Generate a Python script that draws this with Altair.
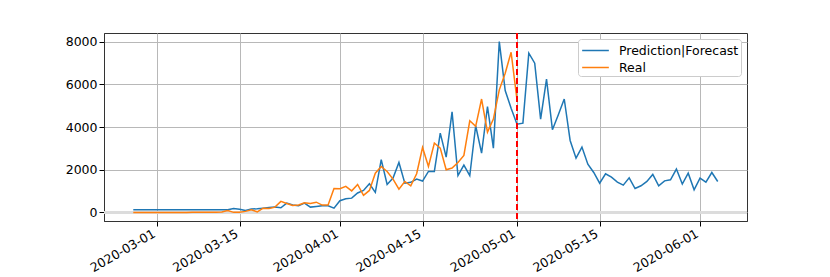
import altair as alt
import pandas as pd

# ---- data ----
start_date = "2020-02-26"
series_names = ["Prediction|Forecast", "Real"]
series_colors = ["#1f77b4", "#ff7f0e"]

prediction = [
    130, 130, 130, 130, 130, 130, 130, 130, 130, 130, 130, 130, 130, 130, 130, 130, 130,
    190, 150, 95, 160, 170, 200, 230, 250, 220, 440, 345, 310, 440, 250, 280, 310, 310,
    200, 550, 640, 670, 910, 1030, 1340, 940, 2470, 1310, 1610, 2340, 1370, 1410, 1560,
    1470, 1920, 1920, 3710, 2590, 4710, 1730, 2220, 1720, 4060, 2780, 4960, 3010, 8000,
    5710, 4880, 4130, 4180, 7460, 6990, 4370, 6240, 3870, 4570, 5310, 3370, 2540, 3060,
    2260, 1870, 1370, 1810, 1650, 1420, 1280, 1620, 1120, 1250, 1450, 1780, 1250, 1480,
    1530, 2030, 1330, 1840, 1060, 1610, 1420, 1870, 1450,
]

real = [
    0, 0, 0, 0, 0, 0, 0, 0, 0,
    0, 5, 5, 10, 10, 15, 20,
    95, 5, 10, 50, 125, 30, 200, 190, 250, 520, 420, 330, 350, 450, 420, 480, 345, 345,
    1120, 1110, 1220, 1010, 1310, 800, 1030, 1840, 2150, 1920, 1560, 1090, 1450, 1250,
    1810, 3040, 2150, 3250, 3010, 2000, 2080, 2340, 2670, 4290, 4030, 5310, 3760, 4370,
    5740, 6520, 7500, 5270,
]

tick_dates = [(2020, 3, 1), (2020, 3, 15), (2020, 4, 1), (2020, 4, 15),
              (2020, 5, 1), (2020, 5, 15), (2020, 6, 1)]
y_ticks = [0, 2000, 4000, 6000, 8000]
cutoff_date = ["2020-05-01T00:00:00"]
zero_line = [0]

# ---- tables ----
dates = pd.date_range(start_date, periods=len(prediction), freq="D").strftime("%Y-%m-%dT00:00:00")
df = pd.concat([
    pd.DataFrame({"date": list(dates), "value": prediction, "series": series_names[0]}),
    pd.DataFrame({"date": list(dates[:len(real)]), "value": real, "series": series_names[1]}),
], ignore_index=True)
cut_df = pd.DataFrame({"date": cutoff_date})
zero_df = pd.DataFrame({"v": zero_line})

font = "DejaVu Sans"

x_scale = alt.Scale(domain=[alt.DateTime(year=2020, month=2, date=21, hours=1),
                            alt.DateTime(year=2020, month=6, date=8, hours=23)])
y_scale = alt.Scale(domain=[-400, 8400], nice=False, zero=False)

x_axis = alt.Axis(
    values=[alt.DateTime(year=y, month=m, date=d) for (y, m, d) in tick_dates],
    format="%Y-%m-%d", labelAngle=330, labelAlign="right", labelBaseline="top",
    labelOffset=-6, labelPadding=1,
    title="Date", titlePadding=4, grid=True,
)
y_axis = alt.Axis(values=y_ticks, title=None, grid=True, format="d")

zero_rule = alt.Chart(zero_df).mark_rule(color="#dcdcdc", strokeWidth=3).encode(
    y=alt.Y("v:Q", scale=y_scale, axis=y_axis)
)

lines = alt.Chart(df).mark_line(strokeWidth=1.5).encode(
    x=alt.X("date:T", scale=x_scale, axis=x_axis),
    y=alt.Y("value:Q", scale=y_scale, axis=y_axis),
    color=alt.Color(
        "series:N",
        scale=alt.Scale(domain=series_names, range=series_colors),
        sort=series_names,
        legend=alt.Legend(
            title=None, orient="top-right", offset=6,
            symbolType="M-1.57,0H1.57", symbolSize=289, symbolStrokeWidth=1.5,
            symbolOffset=6, symbolFillColor="transparent",
            labelFont=font, labelFontSize=12.5, labelColor="black", labelOffset=14,
            fillColor="white", strokeColor="#cccccc", cornerRadius=3, padding=2,
            rowPadding=1,
        ),
    ),
)

cut_rule = alt.Chart(cut_df).mark_rule(color="red", strokeDash=[6, 3], strokeWidth=2).encode(
    x=alt.X("date:T", scale=x_scale)
)

chart = alt.layer(zero_rule, lines, cut_rule).properties(
    width=643, height=188,
    autosize=alt.AutoSizeParams(type="none"),
    padding={"left": 96, "top": 25, "right": 60, "bottom": 56},
).configure_view(
    stroke="#333333", strokeWidth=1
).configure_axis(
    labelFont=font, labelFontSize=12.5, labelColor="black",
    titleFont=font, titleFontSize=12.5, titleColor="black", titleFontWeight="normal",
    tickColor="black", tickSize=5, domainColor="#333333",
    gridColor="#b8b8b8", gridWidth=1,
)

chart.save("out.html", embed_options={"renderer": "svg", "actions": False})
